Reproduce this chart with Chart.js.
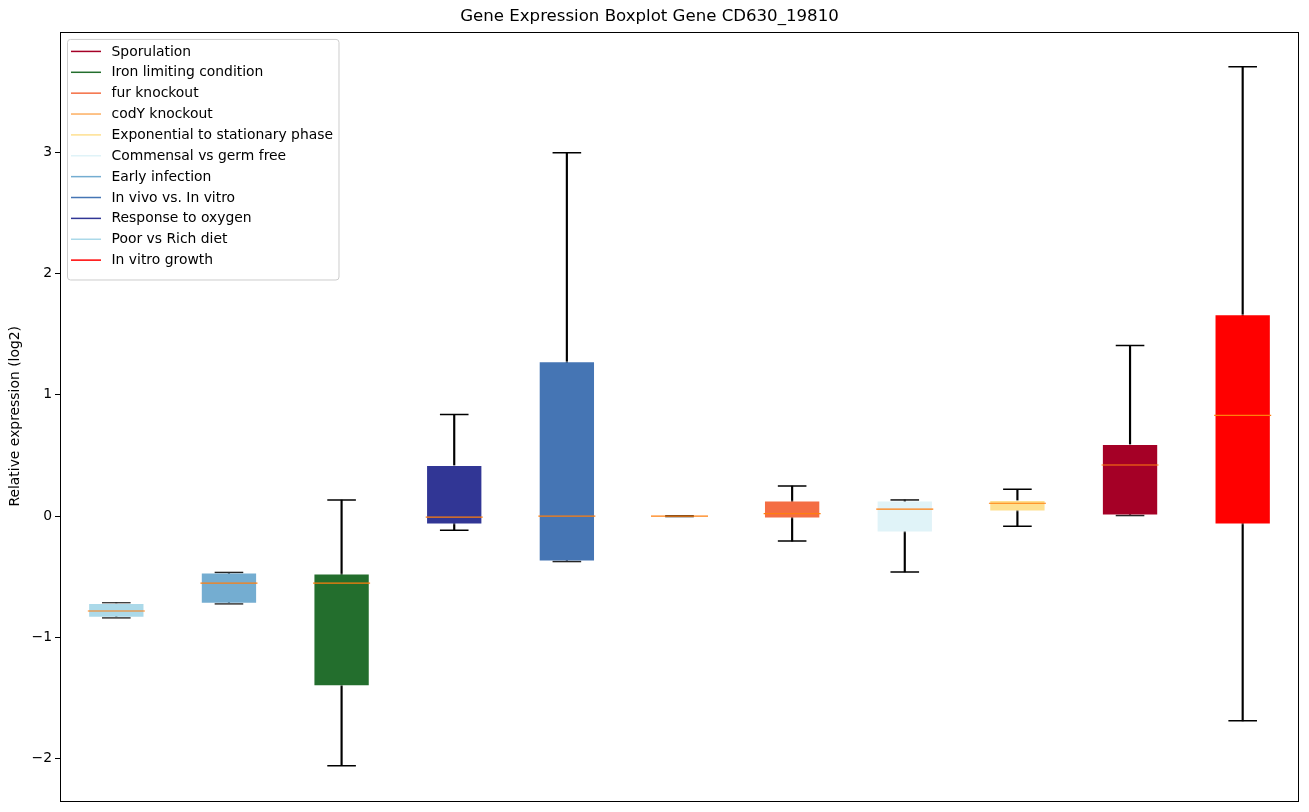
<!DOCTYPE html>
<html>
<head>
    <title>Gene Expression Boxplot</title>
    <script src="https://cdn.jsdelivr.net/npm/chart.js"></script>
    <style>
        html, body {
            margin: 0;
            padding: 0;
            background: #fff;
        }
        #wrap {
            width: 1309px;
            height: 812px;
        }
    </style>
</head>
<body>
    <div id="wrap"><canvas id="boxChart"></canvas></div>

    <script>
        // one box per condition, left to right
        const conditions = ['Poor vs Rich diet', 'Early infection', 'Iron limiting condition', 'Response to oxygen',
            'In vivo vs. In vitro', 'codY knockout', 'fur knockout', 'Commensal vs germ free',
            'Exponential to stationary phase', 'Sporulation', 'In vitro growth'];
        const whiskerLow  = [-0.837, -0.722, -2.057, -0.116, -0.374, -0.003, -0.206, -0.461, -0.083, 0.004, -1.687];
        const q1          = [-0.837, -0.722, -1.402, -0.070, -0.374, -0.004, -0.020, -0.136, 0.037, 0.004, -0.070];
        const medians     = [-0.782, -0.552, -0.552, -0.009, -0.001, 0.000, 0.020, 0.057, 0.106, 0.421, 0.830];
        const q3          = [-0.716, -0.465, -0.473, 0.421, 1.276, 0.004, 0.128, 0.128, 0.133, 0.594, 1.663];
        const whiskerHigh = [-0.716, -0.465, 0.133, 0.838, 2.995, 0.003, 0.248, 0.133, 0.221, 1.405, 3.702];
        const boxColors   = ['#abd9e9', '#74add1', '#236e2d', '#313695', '#4575b4', '#fdae61', '#f46d43',
            '#e0f3f8', '#fee090', '#a50026', '#ff0000'];

        // legend order as in the figure
        const legendNames = ['Sporulation', 'Iron limiting condition', 'fur knockout', 'codY knockout',
            'Exponential to stationary phase', 'Commensal vs germ free', 'Early infection',
            'In vivo vs. In vitro', 'Response to oxygen', 'Poor vs Rich diet', 'In vitro growth'];

        const yTicks = [-2, -1, 0, 1, 2, 3];

        Chart.defaults.font.family = "'DejaVu Sans', sans-serif";
        Chart.defaults.color = '#000';

        const frame = {
            id: 'frame',
            afterDatasetsDraw(chart) {
                const a = chart.chartArea;
                const ctx = chart.ctx;
                ctx.save();
                ctx.strokeStyle = '#000';
                ctx.lineWidth = 1;
                ctx.strokeRect(Math.round(a.left) + 0.5, Math.round(a.top) + 0.5,
                    Math.round(a.right - a.left) - 1, Math.round(a.bottom - a.top));
                ctx.restore();
            }
        };

        const insideLegend = {
            id: 'insideLegend',
            afterDraw(chart) {
                const a = chart.chartArea;
                const ctx = chart.ctx;
                ctx.save();
                ctx.font = "13.9px 'DejaVu Sans', sans-serif";
                let maxW = 0;
                legendNames.forEach(n => { maxW = Math.max(maxW, ctx.measureText(n).width); });
                const x = a.left + 7.5;
                const y = a.top + 7.5;
                const rowH = 20.87;
                const w = 44 + maxW + 6;
                const h = rowH * legendNames.length + 11;
                ctx.beginPath();
                ctx.roundRect(x, y, w, h, 3);
                ctx.fillStyle = 'rgba(255,255,255,0.8)';
                ctx.fill();
                ctx.strokeStyle = '#cccccc';
                ctx.lineWidth = 1;
                ctx.stroke();
                ctx.textBaseline = 'middle';
                legendNames.forEach((n, i) => {
                    const cy = y + 12 + i * rowH;
                    ctx.strokeStyle = boxColors[conditions.indexOf(n)];
                    ctx.lineWidth = 1.5;
                    ctx.beginPath();
                    ctx.moveTo(x + 3.5, cy);
                    ctx.lineTo(x + 33.5, cy);
                    ctx.stroke();
                    ctx.fillStyle = '#000';
                    ctx.fillText(n, x + 44, cy + 0.5);
                });
                ctx.restore();
            }
        };

        const ctx = document.getElementById('boxChart').getContext('2d');
        new Chart(ctx, {
            type: 'bar',
            data: {
                labels: conditions,
                datasets: [
                    {
                        label: 'whiskers',
                        data: conditions.map((c, i) => [whiskerLow[i], whiskerHigh[i]]),
                        backgroundColor: '#000',
                        barThickness: 1.5,
                        grouped: false,
                        order: 4
                    },
                    {
                        type: 'line',
                        label: 'low caps',
                        data: whiskerLow,
                        showLine: false,
                        pointStyle: 'line',
                        pointRadius: 14.3,
                        pointBorderWidth: 1.5,
                        pointBorderColor: '#000',
                        order: 3
                    },
                    {
                        type: 'line',
                        label: 'high caps',
                        data: whiskerHigh,
                        showLine: false,
                        pointStyle: 'line',
                        pointRadius: 14.3,
                        pointBorderWidth: 1.5,
                        pointBorderColor: '#000',
                        order: 3
                    },
                    {
                        label: 'boxes',
                        data: conditions.map((c, i) => [q1[i], q3[i]]),
                        backgroundColor: boxColors,
                        borderColor: 'rgba(255,255,255,0.6)',
                        borderWidth: 1,
                        borderSkipped: false,
                        barPercentage: 0.5,
                        categoryPercentage: 1,
                        grouped: false,
                        order: 2
                    },
                    {
                        type: 'line',
                        label: 'medians',
                        data: medians,
                        showLine: false,
                        pointStyle: 'line',
                        pointRadius: 28.5,
                        pointBorderWidth: 1.2,
                        pointBorderColor: '#ff7f0e',
                        order: 1
                    }
                ]
            },
            options: {
                responsive: true,
                maintainAspectRatio: false,
                animation: false,
                events: [],
                layout: {
                    autoPadding: false,
                    padding: { left: 0, right: 10, top: 0, bottom: 8.7 }
                },
                plugins: {
                    legend: { display: false },
                    tooltip: { enabled: false },
                    title: {
                        display: true,
                        text: 'Gene Expression Boxplot Gene CD630_19810',
                        color: '#000',
                        font: { size: 16.6, weight: 'normal', lineHeight: 1.2 },
                        padding: { top: 7, bottom: 5 }
                    }
                },
                scales: {
                    x: {
                        display: false,
                        offset: true
                    },
                    y: {
                        min: -2.345,
                        max: 3.99,
                        afterFit(scale) { scale.width = 60; },
                        afterBuildTicks(scale) {
                            scale.ticks = yTicks.map(v => ({ value: v }));
                        },
                        border: { display: false },
                        grid: {
                            drawOnChartArea: false,
                            drawTicks: true,
                            tickLength: 5,
                            color: '#000'
                        },
                        ticks: {
                            font: { size: 13.9 },
                            color: '#000',
                            padding: 3,
                            callback: v => String(v).replace('-', '\u2212')
                        },
                        title: {
                            display: true,
                            text: 'Relative expression (log2)',
                            font: { size: 13.9 },
                            color: '#000',
                            padding: { top: 7, bottom: 0 }
                        }
                    }
                }
            },
            plugins: [frame, insideLegend]
        });
    </script>
</body>
</html>
